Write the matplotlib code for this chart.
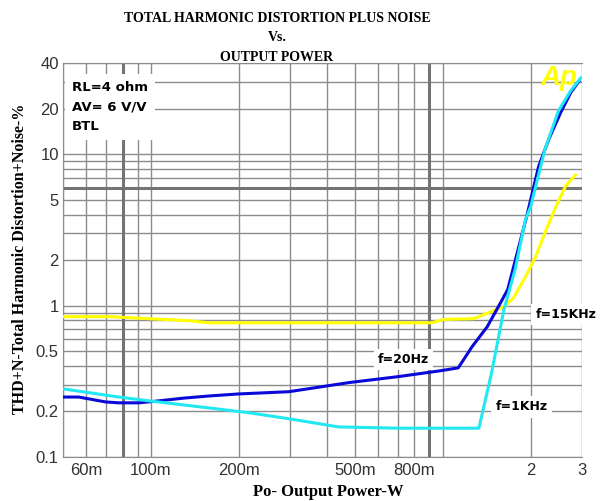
import matplotlib
matplotlib.use('Agg')
import matplotlib.pyplot as plt
from matplotlib.ticker import FixedLocator, NullFormatter

# data (W, %)
p_20hz = [0.05, 0.0566, 0.0701, 0.0777, 0.091, 0.1065, 0.1297, 0.158, 0.2, 0.297,
          0.476, 0.707, 0.969, 1.13, 1.26, 1.42, 1.58, 1.67, 1.94, 2.13, 2.31, 2.54, 2.75, 2.93]
thd_20hz = [0.249, 0.249, 0.231, 0.228, 0.228, 0.235, 0.245, 0.253, 0.261, 0.27,
            0.31, 0.34, 0.37, 0.388, 0.535, 0.725, 1.05, 1.28, 3.9, 8.3, 12.6, 19.0, 25.7, 30.4]

p_1khz = [0.05, 0.0777, 0.0984, 0.158, 0.217, 0.297, 0.44, 0.707, 1.33, 1.47,
          1.62, 1.77, 1.92, 2.0, 2.24, 2.49, 2.74, 2.97]
thd_1khz = [0.282, 0.249, 0.235, 0.211, 0.196, 0.179, 0.158, 0.155, 0.155, 0.36,
            0.94, 1.73, 3.7, 4.5, 10.8, 19.3, 26.2, 31.9]

p_15khz = [0.05, 0.0718, 0.0984, 0.135, 0.158, 0.917, 1.007, 1.277, 1.437, 1.618,
           1.75, 1.92, 2.08, 2.25, 2.44, 2.64, 2.85]
thd_15khz = [0.846, 0.846, 0.82, 0.795, 0.77, 0.77, 0.81, 0.82, 0.90, 0.98,
             1.13, 1.55, 2.1, 3.1, 4.5, 6.2, 7.3]

xticks = [0.06, 0.1, 0.2, 0.5, 0.8, 2, 3]
xticklabels = ['60m', '100m', '200m', '500m', '800m', '2', '3']
yticks = [0.1, 0.2, 0.5, 1, 2, 5, 10, 20, 40]
yticklabels = ['0.1', '0.2', '0.5', '1', '2', '5', '10', '20', '40']

fig = plt.figure(figsize=(6.1, 5.01), dpi=100)
ax = fig.add_axes([0.1033, 0.0878, 0.8508, 0.7862])
ax.set_xscale('log')
ax.set_yscale('log')
ax.set_xlim(0.05, 3)
ax.set_ylim(0.1, 40)

# grid lines at every 1..9 step of the decade
xgrid = [m * 10.0 ** e for e in (-2, -1, 0) for m in range(1, 10)]
ygrid = [m * 10.0 ** e for e in (-1, 0, 1) for m in range(1, 10)]
ax.xaxis.set_minor_locator(FixedLocator(xgrid))
ax.yaxis.set_minor_locator(FixedLocator(ygrid))
ax.xaxis.set_minor_formatter(NullFormatter())
ax.yaxis.set_minor_formatter(NullFormatter())
ax.grid(True, which='both', color='#8c8c8c', lw=1.0)
ax.axvline(0.08, color='#747474', lw=2.2, zorder=1)
ax.axvline(0.9, color='#747474', lw=2.2, zorder=1)
ax.axhline(6, color='#747474', lw=2.2, zorder=1)
ax.set_axisbelow(True)

ax.set_xticks(xticks)
ax.set_xticklabels(xticklabels)
ax.set_yticks(yticks)
ax.set_yticklabels(yticklabels)
for lab in ax.get_xticklabels() + ax.get_yticklabels():
    lab.set_fontfamily('Liberation Sans')
    lab.set_fontsize(12)
    lab.set_color('#333333')
ax.tick_params(which='both', length=0, pad=4)
ax.tick_params(axis='y', pad=3)

for s in ['left', 'bottom', 'top']:
    ax.spines[s].set_color('#8c8c8c')
ax.spines['right'].set_visible(False)

ax.plot(p_15khz, thd_15khz, color='#ffff00', lw=2.2, zorder=3)
ax.plot(p_1khz, thd_1khz, color='#22e8f2', lw=2.2, zorder=4)
ax.plot(p_20hz, thd_20hz, color='#0a0ad8', lw=2.2, zorder=3)

# curve labels
box = dict(facecolor='white', edgecolor='none', pad=3)
lab_font = dict(family='DejaVu Sans', weight='bold', size=9)
ax.text(0.735, 0.439, 'f=20Hz', ha='center', va='center', bbox=box, zorder=5, **lab_font)
ax.text(1.86, 0.214, 'f=1KHz', ha='center', va='center', bbox=box, zorder=5, **lab_font)
ax.text(2.64, 0.872, 'f=15KHz', ha='center', va='center', bbox=box, zorder=5, **lab_font)

# conditions box
ax.text(0.017, 0.955, 'RL=4 ohm\nAV= 6 V/V\nBTL', transform=ax.transAxes,
        ha='left', va='top', linespacing=1.65, zorder=5,
        bbox=dict(facecolor='white', edgecolor='none', pad=5),
        family='DejaVu Sans', weight='bold', size=9.5)

# Audio Precision logo
ax.text(0.955, 0.962, 'Ap', transform=ax.transAxes, ha='center', va='center',
        color='#ffff00', fontsize=20, fontweight='bold', style='italic',
        family='Liberation Sans', zorder=2)

title_font = dict(family='Liberation Serif', weight='bold', size=10)
fig.text(0.454, 0.964, 'TOTAL HARMONIC DISTORTION PLUS NOISE', ha='center', va='center', **title_font)
fig.text(0.454, 0.926, 'Vs.', ha='center', va='center', **title_font)
fig.text(0.454, 0.886, 'OUTPUT POWER', ha='center', va='center', **title_font)

fig.text(0.538, 0.018, 'Po- Output Power-W', ha='center', va='center',
         family='Liberation Serif', weight='bold', size=12)
fig.text(0.033, 0.483, 'THD+N-Total Harmonic Distortion+Noise-%', ha='center', va='center',
         rotation=90, family='Liberation Serif', weight='bold', size=11.5)

fig.savefig('out.png', dpi=100)
